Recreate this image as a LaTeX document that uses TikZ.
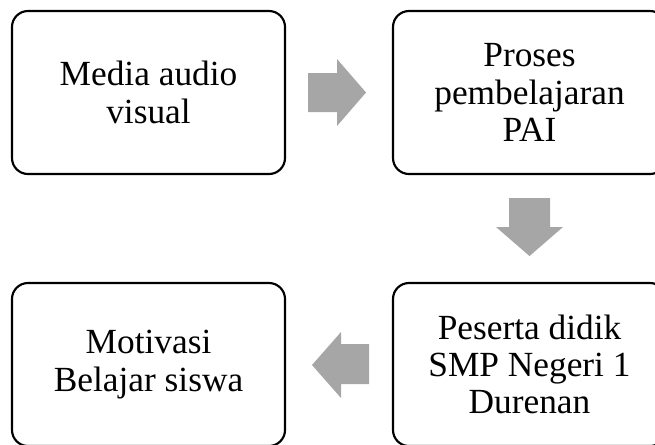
\documentclass[tikz,border=0pt]{standalone}
\usepackage{fontspec}
\setmainfont{Liberation Serif}
\begin{document}
\begin{tikzpicture}[x=0.75pt,y=-0.75pt,
  box/.style={draw=black, line width=1.6pt, rounded corners=12pt, minimum width=204.75pt, minimum height=122.25pt, align=center, inner sep=0pt, font=\fontsize{26.5}{28}\selectfont},
  blockarrow/.style={fill=black!35, draw=none}]
\useasboundingbox (0,0) rectangle (655,444);
\clip (0,0) rectangle (655,444);
\node[box] (a) at (148.5,92.5) {Media audio\\visual};
\node[box] (b) at (529.5,92.5) {Proses\\pembelajaran\\PAI};
\node[box] (c) at (529.5,364.5) {Peserta didik\\SMP Negeri 1\\Durenan};
\node[box] (d) at (148.5,364.5) {Motivasi\\Belajar siswa};
% right arrow
\fill[blockarrow] (308,73) -- (337,73) -- (337,59) -- (366,92.5) -- (337,126) -- (337,112) -- (308,112) -- cycle;
% down arrow
\fill[blockarrow] (509,198) -- (550,198) -- (550,227) -- (563,227) -- (529.5,256) -- (496,227) -- (509,227) -- cycle;
% left arrow
\fill[blockarrow] (369,344) -- (341,344) -- (341,332) -- (312,365) -- (341,398) -- (341,384) -- (369,384) -- cycle;
\end{tikzpicture}
\end{document}
